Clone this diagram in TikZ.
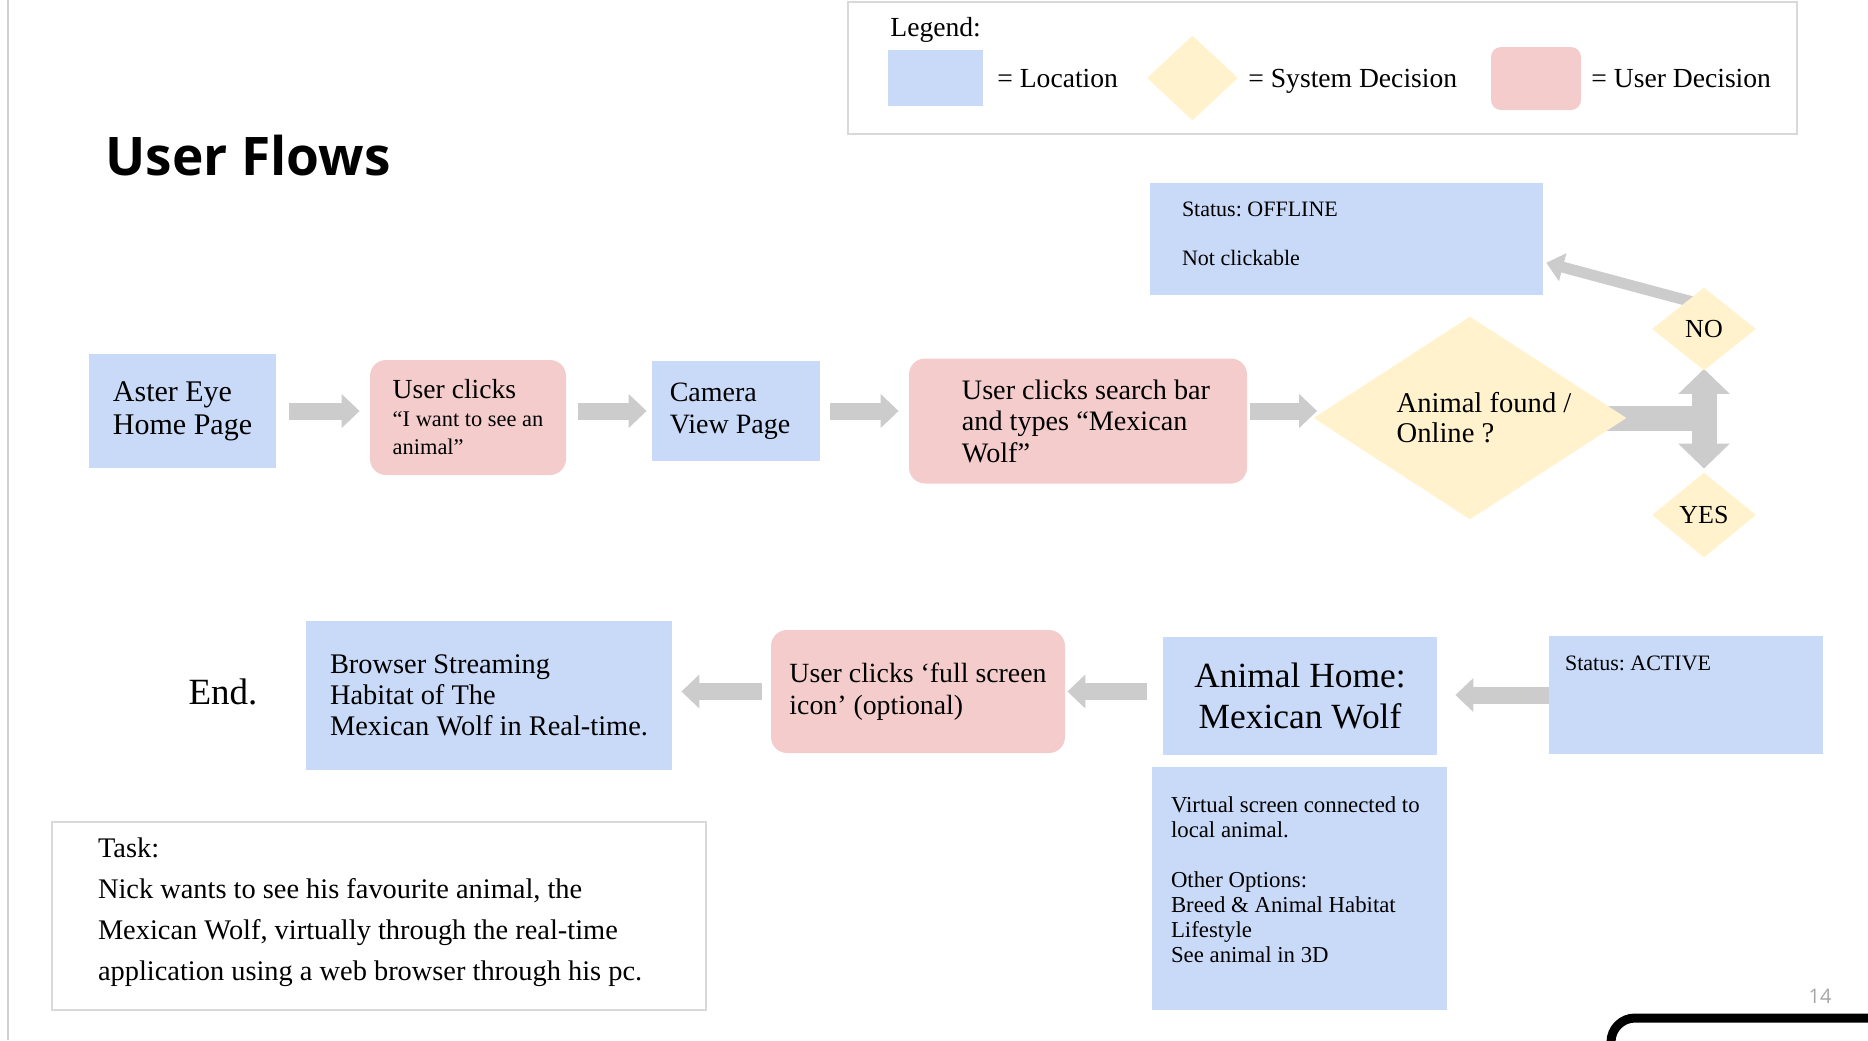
\documentclass[tikz,border=0pt]{standalone}
\usepackage{fontspec}
\setmainfont{Liberation Serif}
\newfontfamily\titlefont{Open Sans}
\usetikzlibrary{shapes.geometric,arrows.meta,backgrounds}
\definecolor{locblue}{HTML}{C9DAF8}
\definecolor{usrpink}{HTML}{F4CCCC}
\definecolor{sysyellow}{HTML}{FFF2CC}
\definecolor{flowgray}{HTML}{CCCCCC}
\definecolor{framegray}{HTML}{D9D9D9}
\frenchspacing

\begin{document}
\begin{tikzpicture}[x=0.5pt,y=-0.5pt,
    location/.style={fill=locblue, inner sep=0pt, align=left},
    userdec/.style={fill=usrpink, rounded corners=8pt, inner sep=0pt, align=left},
    sysdec/.style={diamond, fill=sysyellow, inner sep=0pt, align=left},
    legtext/.style={inner sep=0pt, anchor=base west, font=\fontsize{13.8pt}{16pt}\selectfont},
    flow/.style={draw=flowgray, line width=8.5pt, -{Triangle[length=9pt,width=16.5pt]}}]
  \clip (0,0) rectangle (1868,1040);
  \draw[gray!35, line width=1pt] (8,0) -- (8,1040);

  \node[draw=framegray, line width=1pt, minimum width=474.5pt, minimum height=66pt] (legend) at (1322.5,68) {};
  \node[legtext] (legtitle) at (890,36) {Legend:};
  \node[location, minimum width=47.5pt, minimum height=28pt] (leglocbox) at (935.5,78) {};
  \node[legtext] (legloc) at (997,87) {= Location};
  \node[sysdec, minimum width=45.5pt, minimum height=42.5pt] (legsysbox) at (1192.5,78) {};
  \node[legtext] (legsys) at (1248,87) {= System Decision};
  \node[userdec, rounded corners=5pt, minimum width=45pt, minimum height=31.5pt] (legusrbox) at (1536,78.5) {};
  \node[legtext] (legusr) at (1591,87) {= User Decision};

  \node[anchor=base west, inner sep=0pt, font=\titlefont\bfseries\fontsize{26.6pt}{30pt}\selectfont] (title) at (105,175) {User Flows};

  \node[location, minimum width=93.5pt, minimum height=57pt, font=\fontsize{15pt}{16.5pt}\selectfont] (home) at (182.5,411) {Aster Eye\\Home Page};
  \node[userdec, minimum width=98pt, minimum height=57.5pt, font=\fontsize{13.8pt}{14pt}\selectfont] (click1) at (468,417.5) {User clicks\\{\fontsize{11.2pt}{12pt}\selectfont “I want to see an}\\{\fontsize{11.2pt}{12pt}\selectfont animal”}};
  \node[location, minimum width=84pt, minimum height=50pt, font=\fontsize{14pt}{16pt}\selectfont] (camera) at (736,411) {Camera\hspace*{6pt}\\View Page\hspace*{6pt}};
  \node[userdec, minimum width=169pt, minimum height=62.5pt, font=\fontsize{14.1pt}{15.75pt}\selectfont] (search) at (1078,421) {\hspace*{8pt}User clicks search bar\\\hspace*{8pt}and types “Mexican\\\hspace*{8pt}Wolf”};
  \node[sysdec, minimum width=156.5pt, minimum height=101.5pt, font=\fontsize{14.3pt}{15pt}\selectfont] (found) at (1470,418) {\raisebox{-5.4pt}[0pt][0pt]{\makebox[0pt]{\hspace*{14pt}\begin{tabular}{@{}l@{}}Animal found /\\Online ?\end{tabular}}}};
  \node[sysdec, minimum width=52pt, minimum height=41.5pt, font=\fontsize{13pt}{15pt}\selectfont] (no) at (1704,329) {NO};
  \node[sysdec, minimum width=52pt, minimum height=42.5pt, font=\fontsize{13pt}{15pt}\selectfont] (yes) at (1704,515) {YES};
  \node[location, minimum width=196.5pt, minimum height=56pt, font=\fontsize{11pt}{13pt}\selectfont] (offline) at (1346.5,239) {\parbox[c][56pt][t]{196.5pt}{\leftskip=16pt\vspace*{9.5pt}Status: OFFLINE\\[11.5pt]Not clickable}};

  \node[inner sep=0pt, font=\fontsize{18.5pt}{20pt}\selectfont] (end) at (223,692) {End.};
  \node[location, minimum width=183pt, minimum height=74.5pt, font=\fontsize{14.2pt}{15.5pt}\selectfont] (stream) at (489,695.5) {Browser Streaming\\Habitat of The\\Mexican Wolf in Real-time.};
  \node[userdec, minimum width=147pt, minimum height=61.5pt, font=\fontsize{13.9pt}{16pt}\selectfont] (full) at (918,691.5) {User clicks ‘full screen\\icon’ (optional)};
  \node[location, minimum width=137pt, minimum height=59pt, align=center, font=\fontsize{17.7pt}{20.5pt}\selectfont] (animal) at (1300,696) {Animal Home:\\Mexican Wolf};
  \node[location, minimum width=137pt, minimum height=59pt, font=\fontsize{11pt}{13pt}\selectfont] (active) at (1686,695) {\parbox[c][59pt][t]{137pt}{\leftskip=8pt\vspace*{10pt}Status: ACTIVE}};
  \node[location, minimum width=147.5pt, minimum height=121.5pt, font=\fontsize{11.4pt}{12.5pt}\selectfont] (details) at (1299.5,888.5) {\parbox[c][121.5pt][t]{147.5pt}{\leftskip=9.5pt\vspace*{15pt}Virtual screen connected to\\local animal.\\[12.5pt]Other Options:\\Breed \& Animal Habitat\\Lifestyle\\See animal in 3D}};
  \node[draw=framegray, line width=1pt, inner sep=0pt, minimum width=327pt, minimum height=94pt, font=\fontsize{14.2pt}{20.5pt}\selectfont] (task) at (379,916) {\parbox[c][94pt][t]{327pt}{\leftskip=23pt\vspace*{8pt}Task:\\Nick wants to see his favourite animal, the\\Mexican Wolf, virtually through the real-time\\application using a web browser through his pc.}};

  \draw[flow, shorten <=6.5pt, shorten >=5pt] (home.east) -- (home.east -| click1.west);
  \draw[flow, shorten <=6pt, shorten >=2.5pt] (click1.east |- home.east) -- (camera.west |- home.east);
  \draw[flow, shorten <=5pt, shorten >=5pt] (camera.east) -- (search.west |- camera.east);
  \draw[flow, shorten <=1.5pt, shorten >=-2pt] (search.east |- camera.east) -- (found.west |- camera.east);
  \draw[flow, shorten <=4.5pt, shorten >=4.5pt] (full.west) -- (full.west -| stream.east);
  \draw[flow, shorten <=8pt, shorten >=1pt] (animal.west |- full.west) -- (full.east);
  \draw[flow, shorten >=9pt] (active.west) -- (active.west -| animal.east);
  \begin{scope}[on background layer]
    \draw[flowgray, line width=12.5pt, shorten >=-6.25pt] (found.center) -- (found.center -| no.center);
    \draw[flowgray, line width=12.5pt, {Triangle[length=12.5pt,width=25pt]}-{Triangle[length=12.5pt,width=25pt]}, shorten <=-1pt, shorten >=1.75pt] (no.south) -- (yes.north);
    \draw[flowgray, line width=5.5pt, -{Triangle[length=8.5pt,width=14pt]}, shorten >=1.5pt] ([yshift=12pt]no.center) -- ([yshift=-11.5pt]offline.east);
  \end{scope}

  \node[inner sep=0pt, text=gray!70, font=\titlefont\fontsize{10pt}{12pt}\selectfont] (pagenum) at (1820,996) {14};
  \draw[line width=4.5pt, rounded corners=12pt] (1611,1018) rectangle (1950,1120);
\end{tikzpicture}
\end{document}
